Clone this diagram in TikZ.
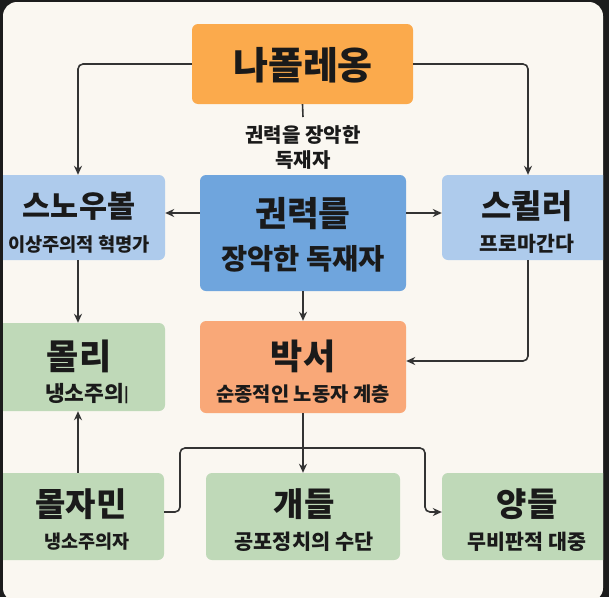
\documentclass[tikz,border=0pt]{standalone}
\usepackage{fontspec}
\setmainfont{Noto Sans CJK KR}
\usetikzlibrary{arrows.meta}
\definecolor{frame}{HTML}{1C1C1C}
\definecolor{panel}{HTML}{FAF7F1}
\definecolor{napc}{HTML}{FBAA4C}
\definecolor{dictc}{HTML}{6FA5DD}
\definecolor{lblue}{HTML}{AECBEC}
\definecolor{lgreen}{HTML}{BFD9B8}
\definecolor{salmon}{HTML}{F9A878}
\definecolor{ink}{HTML}{1A1A1A}
\definecolor{linec}{HTML}{333333}
\tikzset{
  box/.style={rounded corners=6pt, inner sep=0pt, draw=none},
  ttl/.style={inner sep=0pt, text=ink, font=\bfseries\fontsize{#1}{#1}\selectfont},
  sub/.style={inner sep=0pt, text=ink, font=\bfseries\fontsize{#1}{#1}\selectfont},
  arr/.style={draw=linec, line width=1.6pt, rounded corners=5pt, -{Stealth[length=9pt,width=8pt]}},
  plain/.style={draw=linec, line width=1.6pt}
}
\begin{document}
\begin{tikzpicture}[x=1pt,y=-1pt]
\useasboundingbox (0,0) rectangle (609,597);
\fill[frame] (0,0) rectangle (609,597);
\fill[panel, rounded corners=14pt] (3,2) rectangle (603,602);
\begin{scope}
\clip[rounded corners=14pt] (3,2) rectangle (603,602);
% boxes
\node[box, fill=napc, minimum width=221pt, minimum height=80pt] (nap) at (302.5,64) {};
\node[box, fill=dictc, minimum width=206pt, minimum height=116pt] (dict) at (303,233) {};
\node[box, fill=lblue, minimum width=170pt, minimum height=85pt] (snow) at (80,217.5) {};
\node[box, fill=lblue, minimum width=170pt, minimum height=85pt] (squeal) at (527,217.5) {};
\node[box, fill=lgreen, minimum width=170pt, minimum height=88pt] (molly) at (80,367) {};
\node[box, fill=salmon, minimum width=206pt, minimum height=92pt] (boxer) at (303,367) {};
\node[box, fill=lgreen, minimum width=169pt, minimum height=87pt] (molj) at (79.5,516.5) {};
\node[box, fill=lgreen, minimum width=194pt, minimum height=87pt] (dogs) at (303,516.5) {};
\node[box, fill=lgreen, minimum width=170pt, minimum height=87pt] (sheep) at (527,516.5) {};
% texts
\node[ttl=38] (napt) at (303,65) {나폴레옹};
\node[sub=20] (lab1) at (303,135) {권력을 장악한};
\node[sub=20] (lab2) at (303,160) {독재자};
\node[ttl=34.5] (dictt) at (303,214) {권력를};
\node[ttl=28.5] (dicts) at (303,259) {장악한 독재자};
\node[ttl=30.5] (snowt) at (79,206) {스노우볼};
\node[sub=18.7] (snows) at (79,244) {이상주의적 혁명가};
\node[ttl=33] (squealt) at (527,206) {스퀼러};
\node[sub=20.5] (squeals) at (527,244) {프로마간다};
\node[ttl=35] (mollyt) at (79,356) {몰리};
\node[sub=21.5] (mollys) at (87,394) {냉소주의{\fontsize{15}{15}\selectfont\raisebox{2pt}{|}}};
\node[ttl=35] (boxert) at (303,356) {박서};
\node[sub=19.8] (boxers) at (303,394) {순종적인 노동자 계층};
\node[ttl=33] (moljt) at (81,504) {몰자민};
\node[sub=18.5] (moljs) at (87,542) {냉소주의자};
\node[ttl=33] (dogst) at (304,504) {개들};
\node[sub=20.8] (dogss) at (304,542) {공포정치의 수단};
\node[ttl=33] (sheept) at (527,504) {양들};
\node[sub=20.6] (sheeps) at (527,542) {무비판적 대중};
% connectors
\coordinate (stub) at (303,117);
\draw[plain] (nap.south) -- (stub);
\draw[arr] (nap.west) -| ([xshift=-2pt]snow.north);
\draw[arr] (nap.east) -| ([xshift=1pt]squeal.north);
\draw[arr] ([yshift=20pt]dict.west) -- ([yshift=20pt]dict.west -| snow.east);
\draw[arr] ([yshift=20pt]dict.east) -- ([yshift=20pt]dict.east -| squeal.west);
\draw[arr] (dict.south) -- (boxer.north);
\draw[arr] ([xshift=-2pt]snow.south) -- ([xshift=-2pt]molly.north);
\draw[arr] ([xshift=1pt]squeal.south) |- ([yshift=6pt]boxer.east);
\draw[arr] (boxer.south) -- (dogs.north);
\draw[arr] ([xshift=-1.5pt]molj.north) -- ([xshift=-2pt]molly.south);
\coordinate (jl) at (180,448);
\coordinate (jr) at (425,448);
\draw[arr] ([yshift=4.5pt]molj.east) -| (jl) -- (jr) |- ([yshift=4.5pt]sheep.west);
\end{scope}
\end{tikzpicture}
\end{document}
